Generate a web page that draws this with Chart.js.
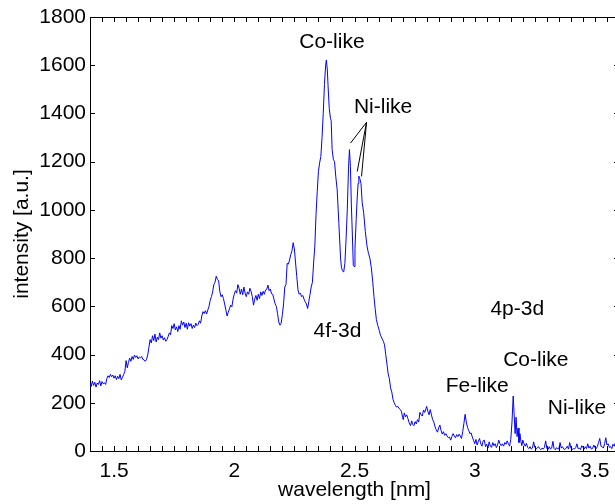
<!DOCTYPE html>
<html>
<head>
<meta charset="utf-8">
<title>Emission spectrum</title>
<style>
  html, body { margin: 0; padding: 0; background: #fff; overflow: hidden; width: 615px; height: 504px; }
  #wrap { width: 630px; height: 504px; }
  canvas { display: block; }
</style>
<script src="https://cdn.jsdelivr.net/npm/chart.js@4/dist/chart.umd.min.js"></script>
</head>
<body>
<div id="wrap"><canvas id="spectrum" width="630" height="504"></canvas></div>
<script>
// Measured spectrum: wavelength [nm] and intensity [a.u.]
const wavelength = [
  1.400,1.405,1.410,1.415,1.420,1.425,1.430,1.435,1.440,1.445,1.450,1.455,1.460,1.465,1.470,1.475,1.480,1.485,1.490,1.495,
  1.500,1.505,1.510,1.515,1.520,1.525,1.530,1.535,1.540,1.545,1.550,1.555,1.560,1.565,1.570,1.575,1.580,1.585,1.590,1.595,
  1.600,1.605,1.610,1.615,1.620,1.625,1.630,1.635,1.640,1.645,1.650,1.655,1.660,1.665,1.670,1.675,1.680,1.685,1.690,1.695,
  1.700,1.705,1.710,1.715,1.720,1.725,1.730,1.735,1.740,1.745,1.750,1.755,1.760,1.765,1.770,1.775,1.780,1.785,1.790,1.795,
  1.800,1.805,1.810,1.815,1.820,1.825,1.830,1.835,1.840,1.845,1.850,1.855,1.860,1.865,1.870,1.875,1.880,1.885,1.890,1.895,
  1.900,1.905,1.910,1.915,1.920,1.925,1.930,1.935,1.940,1.945,1.950,1.955,1.960,1.965,1.970,1.975,1.980,1.985,1.990,1.995,
  2.000,2.005,2.010,2.015,2.020,2.025,2.030,2.035,2.040,2.045,2.050,2.055,2.060,2.065,2.070,2.075,2.080,2.085,2.090,2.095,
  2.100,2.105,2.110,2.115,2.120,2.125,2.130,2.135,2.140,2.145,2.150,2.155,2.160,2.165,2.170,2.175,2.180,2.185,2.190,2.195,
  2.200,2.205,2.210,2.215,2.220,2.225,2.230,2.235,2.240,2.245,2.250,2.255,2.260,2.265,2.270,2.275,2.280,2.285,2.290,2.295,
  2.300,2.305,2.310,2.315,2.320,2.325,2.330,2.335,2.340,2.345,2.350,2.355,2.360,2.365,2.370,2.375,2.380,2.383,2.387,2.390,
  2.395,2.400,2.403,2.407,2.412,2.417,2.422,2.428,2.435,2.442,2.446,2.450,2.455,2.460,2.465,2.470,2.475,2.479,2.483,2.487,
  2.491,2.495,2.498,2.502,2.507,2.511,2.515,2.518,2.522,2.527,2.532,2.538,2.545,2.552,2.558,2.564,2.570,2.576,2.581,2.586,
  2.591,2.597,2.603,2.608,2.614,2.620,2.625,2.630,2.635,2.640,2.645,2.650,2.655,2.660,2.665,2.670,2.675,2.680,2.685,2.690,
  2.695,2.700,2.703,2.707,2.712,2.717,2.722,2.727,2.733,2.738,2.742,2.747,2.752,2.757,2.762,2.767,2.772,2.777,2.782,2.787,
  2.792,2.797,2.800,2.805,2.810,2.815,2.820,2.825,2.830,2.835,2.840,2.845,2.850,2.855,2.860,2.865,2.870,2.875,2.880,2.885,
  2.890,2.895,2.900,2.905,2.910,2.915,2.920,2.925,2.930,2.935,2.940,2.945,2.950,2.955,2.960,2.965,2.970,2.975,2.980,2.985,
  2.990,2.995,3.000,3.005,3.010,3.015,3.020,3.025,3.030,3.035,3.040,3.045,3.050,3.055,3.060,3.065,3.070,3.075,3.080,3.085,
  3.090,3.095,3.100,3.105,3.110,3.115,3.120,3.125,3.130,3.135,3.140,3.145,3.150,3.155,3.160,3.164,3.168,3.172,3.176,3.180,
  3.184,3.188,3.192,3.196,3.200,3.205,3.210,3.215,3.220,3.225,3.230,3.235,3.240,3.245,3.250,3.255,3.260,3.265,3.270,3.275,
  3.280,3.285,3.290,3.295,3.300,3.305,3.310,3.315,3.320,3.325,3.330,3.335,3.340,3.345,3.350,3.355,3.360,3.365,3.370,3.375,
  3.380,3.385,3.390,3.395,3.400,3.405,3.410,3.415,3.420,3.425,3.430,3.435,3.440,3.445,3.450,3.455,3.460,3.465,3.470,3.475,
  3.480,3.485,3.490,3.495,3.500,3.505,3.510,3.515,3.520,3.525,3.530,3.535,3.540,3.545,3.550,3.555,3.560,3.565,3.570,3.575,
  3.580,3.585,3.590,3.595,3.600
];
const intensity = [
  280,268,290,272,285,265,282,276,292,270,288,279,283,276,300,312,305,318,308,315,
  302,312,296,310,300,318,295,305,318,330,375,345,368,385,372,392,380,398,388,395,
  382,390,386,392,380,378,372,380,398,430,462,448,478,458,485,452,472,462,490,468,
  478,460,470,455,462,475,490,482,520,508,528,502,515,495,520,505,540,522,535,512,
  530,505,532,518,528,508,522,512,530,520,525,540,530,560,578,570,582,568,585,600,
  625,640,660,690,700,725,712,705,660,640,648,632,610,585,560,575,590,605,598,630,
  650,665,655,690,675,650,672,648,680,655,640,660,650,675,662,640,605,630,645,625,
  650,632,660,645,662,650,668,670,688,665,672,652,650,630,610,600,570,535,522,530,
  565,610,680,690,778,775,792,815,830,864,838,780,723,668,650,655,640,645,630,619,
  610,591,620,650,680,700,780,850,980,1075,1160,1195,1221,1300,1400,1520,1600,1622,1580,1515,
  1420,1380,1370,1250,1210,1200,1140,1083,944,800,760,748,742,778,880,1000,1170,1250,1180,1020,
  900,770,765,840,960,1045,1110,1140,1130,1110,1030,990,910,850,820,800,760,700,640,590,
  545,520,500,480,468,455,440,400,360,320,300,262,245,215,200,190,182,185,178,172,
  165,140,130,158,142,150,135,118,105,125,110,105,122,112,130,120,160,150,145,170,
  160,175,185,165,150,172,150,130,120,100,88,78,95,108,85,70,80,65,72,62,
  55,58,45,60,72,62,55,68,60,70,62,52,80,115,152,120,98,85,72,75,
  58,45,30,48,25,40,52,30,20,42,45,18,28,12,38,20,15,35,22,30,
  14,25,45,30,22,30,20,35,28,42,30,20,48,120,228,150,72,140,60,95,
  35,72,40,22,45,30,20,32,15,10,18,8,12,38,15,8,12,18,10,5,
  12,8,15,42,10,6,18,8,12,40,10,5,14,8,10,35,12,18,8,6,
  12,20,8,35,12,6,10,8,14,30,10,12,6,22,15,8,18,10,30,12,
  20,8,10,25,15,10,18,35,52,20,18,12,30,55,25,30,15,18,10,28,
  20,35,22,18,25
];

// Axis ranges and labelled ticks
const xRange = [1.4, 3.6];
const yRange = [0, 1800];
const xTickValues = [1.5, 2, 2.5, 3, 3.5];
const yTickValues = [0, 200, 400, 600, 800, 1000, 1200, 1400, 1600, 1800];

// Line identifications, placed at (wavelength, intensity) of the text baseline centre
const noteText = ['Co-like', 'Ni-like', '4f-3d', '4p-3d', 'Co-like', 'Fe-like', 'Ni-like'];
const noteX    = [2.406, 2.619, 2.429, 3.177, 3.254, 3.010, 3.425];
const noteY    = [1672, 1401, 473, 564, 352, 245, 155];

// Pointer lines from the Ni-like label to its two peaks
const pointerFrom = { x: 2.550, y: 1363 };
const pointerToX = [2.4833, 2.5113, 2.5292];
const pointerToY = [1277, 1159, 1139];

const FONT = '"Liberation Sans", Arial, Helvetica, sans-serif';

const spectrumPoints = wavelength.map((w, i) => ({ x: w, y: intensity[i] }));
const pointerSets = pointerToX.map((px, i) => ({
  data: [pointerFrom, { x: px, y: pointerToY[i] }],
  borderColor: '#000',
  borderWidth: 1,
  pointRadius: 0,
  fill: false
}));

// Box frame, inward tick marks and text annotations
const frameAndNotes = {
  id: 'frameAndNotes',
  afterDatasetsDraw(chart) {
    const { ctx, chartArea: a, scales: { x, y } } = chart;
    ctx.save();
    ctx.strokeStyle = '#000';
    ctx.lineWidth = 1;
    ctx.beginPath();
    ctx.moveTo(a.left, a.top + 0.5);
    ctx.lineTo(a.right, a.top + 0.5);
    ctx.moveTo(a.right - 0.5, a.top);
    ctx.lineTo(a.right - 0.5, a.bottom);
    const len = 5;
    for (let k = 28; k <= 72; k++) {
      const px = Math.round(x.getPixelForValue(k * 0.05)) + 0.5;
      ctx.moveTo(px, a.bottom);
      ctx.lineTo(px, a.bottom - len);
      ctx.moveTo(px, a.top);
      ctx.lineTo(px, a.top + len);
    }
    yTickValues.forEach(v => {
      const py = Math.round(y.getPixelForValue(v)) + 0.5;
      ctx.moveTo(a.left, py);
      ctx.lineTo(a.left + len, py);
      ctx.moveTo(a.right, py);
      ctx.lineTo(a.right - len, py);
    });
    ctx.stroke();

    ctx.fillStyle = '#000';
    ctx.font = '21px ' + FONT;
    ctx.textAlign = 'center';
    ctx.textBaseline = 'alphabetic';
    noteText.forEach((t, i) => {
      ctx.fillText(t, x.getPixelForValue(noteX[i]), y.getPixelForValue(noteY[i]));
    });
    ctx.restore();
  }
};

new Chart(document.getElementById('spectrum'), {
  type: 'line',
  data: {
    datasets: [{
      data: spectrumPoints,
      borderColor: '#0000ff',
      borderWidth: 1,
      pointRadius: 0,
      fill: false,
      tension: 0
    }, ...pointerSets]
  },
  options: {
    responsive: false,
    animation: false,
    devicePixelRatio: 1,
    layout: { padding: { top: 17, right: 11, left: 0, bottom: 0 } },
    plugins: { legend: { display: false }, tooltip: { enabled: false } },
    scales: {
      x: {
        type: 'linear',
        min: xRange[0],
        max: xRange[1],
        grid: { display: false, drawTicks: false },
        border: { display: true, color: '#000', width: 1 },
        afterBuildTicks: s => { s.ticks = xTickValues.map(v => ({ value: v })); },
        afterFit: s => { s.height = 53; },
        ticks: {
          color: '#000',
          padding: 8,
          autoSkip: false,
          maxRotation: 0,
          font: { family: FONT, size: 21 },
          callback: v => String(v)
        },
        title: {
          display: true,
          text: 'wavelength [nm]',
          color: '#000',
          font: { family: FONT, size: 21 },
          padding: { top: 0, bottom: 1 }
        }
      },
      y: {
        type: 'linear',
        min: yRange[0],
        max: yRange[1],
        grid: { display: false, drawTicks: false },
        border: { display: true, color: '#000', width: 1 },
        afterBuildTicks: s => { s.ticks = yTickValues.map(v => ({ value: v })); },
        afterFit: s => { s.width = 90; },
        ticks: {
          color: '#000',
          padding: 4,
          font: { family: FONT, size: 21 },
          callback: v => String(v)
        },
        title: {
          display: true,
          text: 'intensity [a.u.]',
          color: '#000',
          font: { family: FONT, size: 21 },
          padding: { top: 10, bottom: 0 }
        }
      }
    }
  },
  plugins: [frameAndNotes]
});
</script>
</body>
</html>
